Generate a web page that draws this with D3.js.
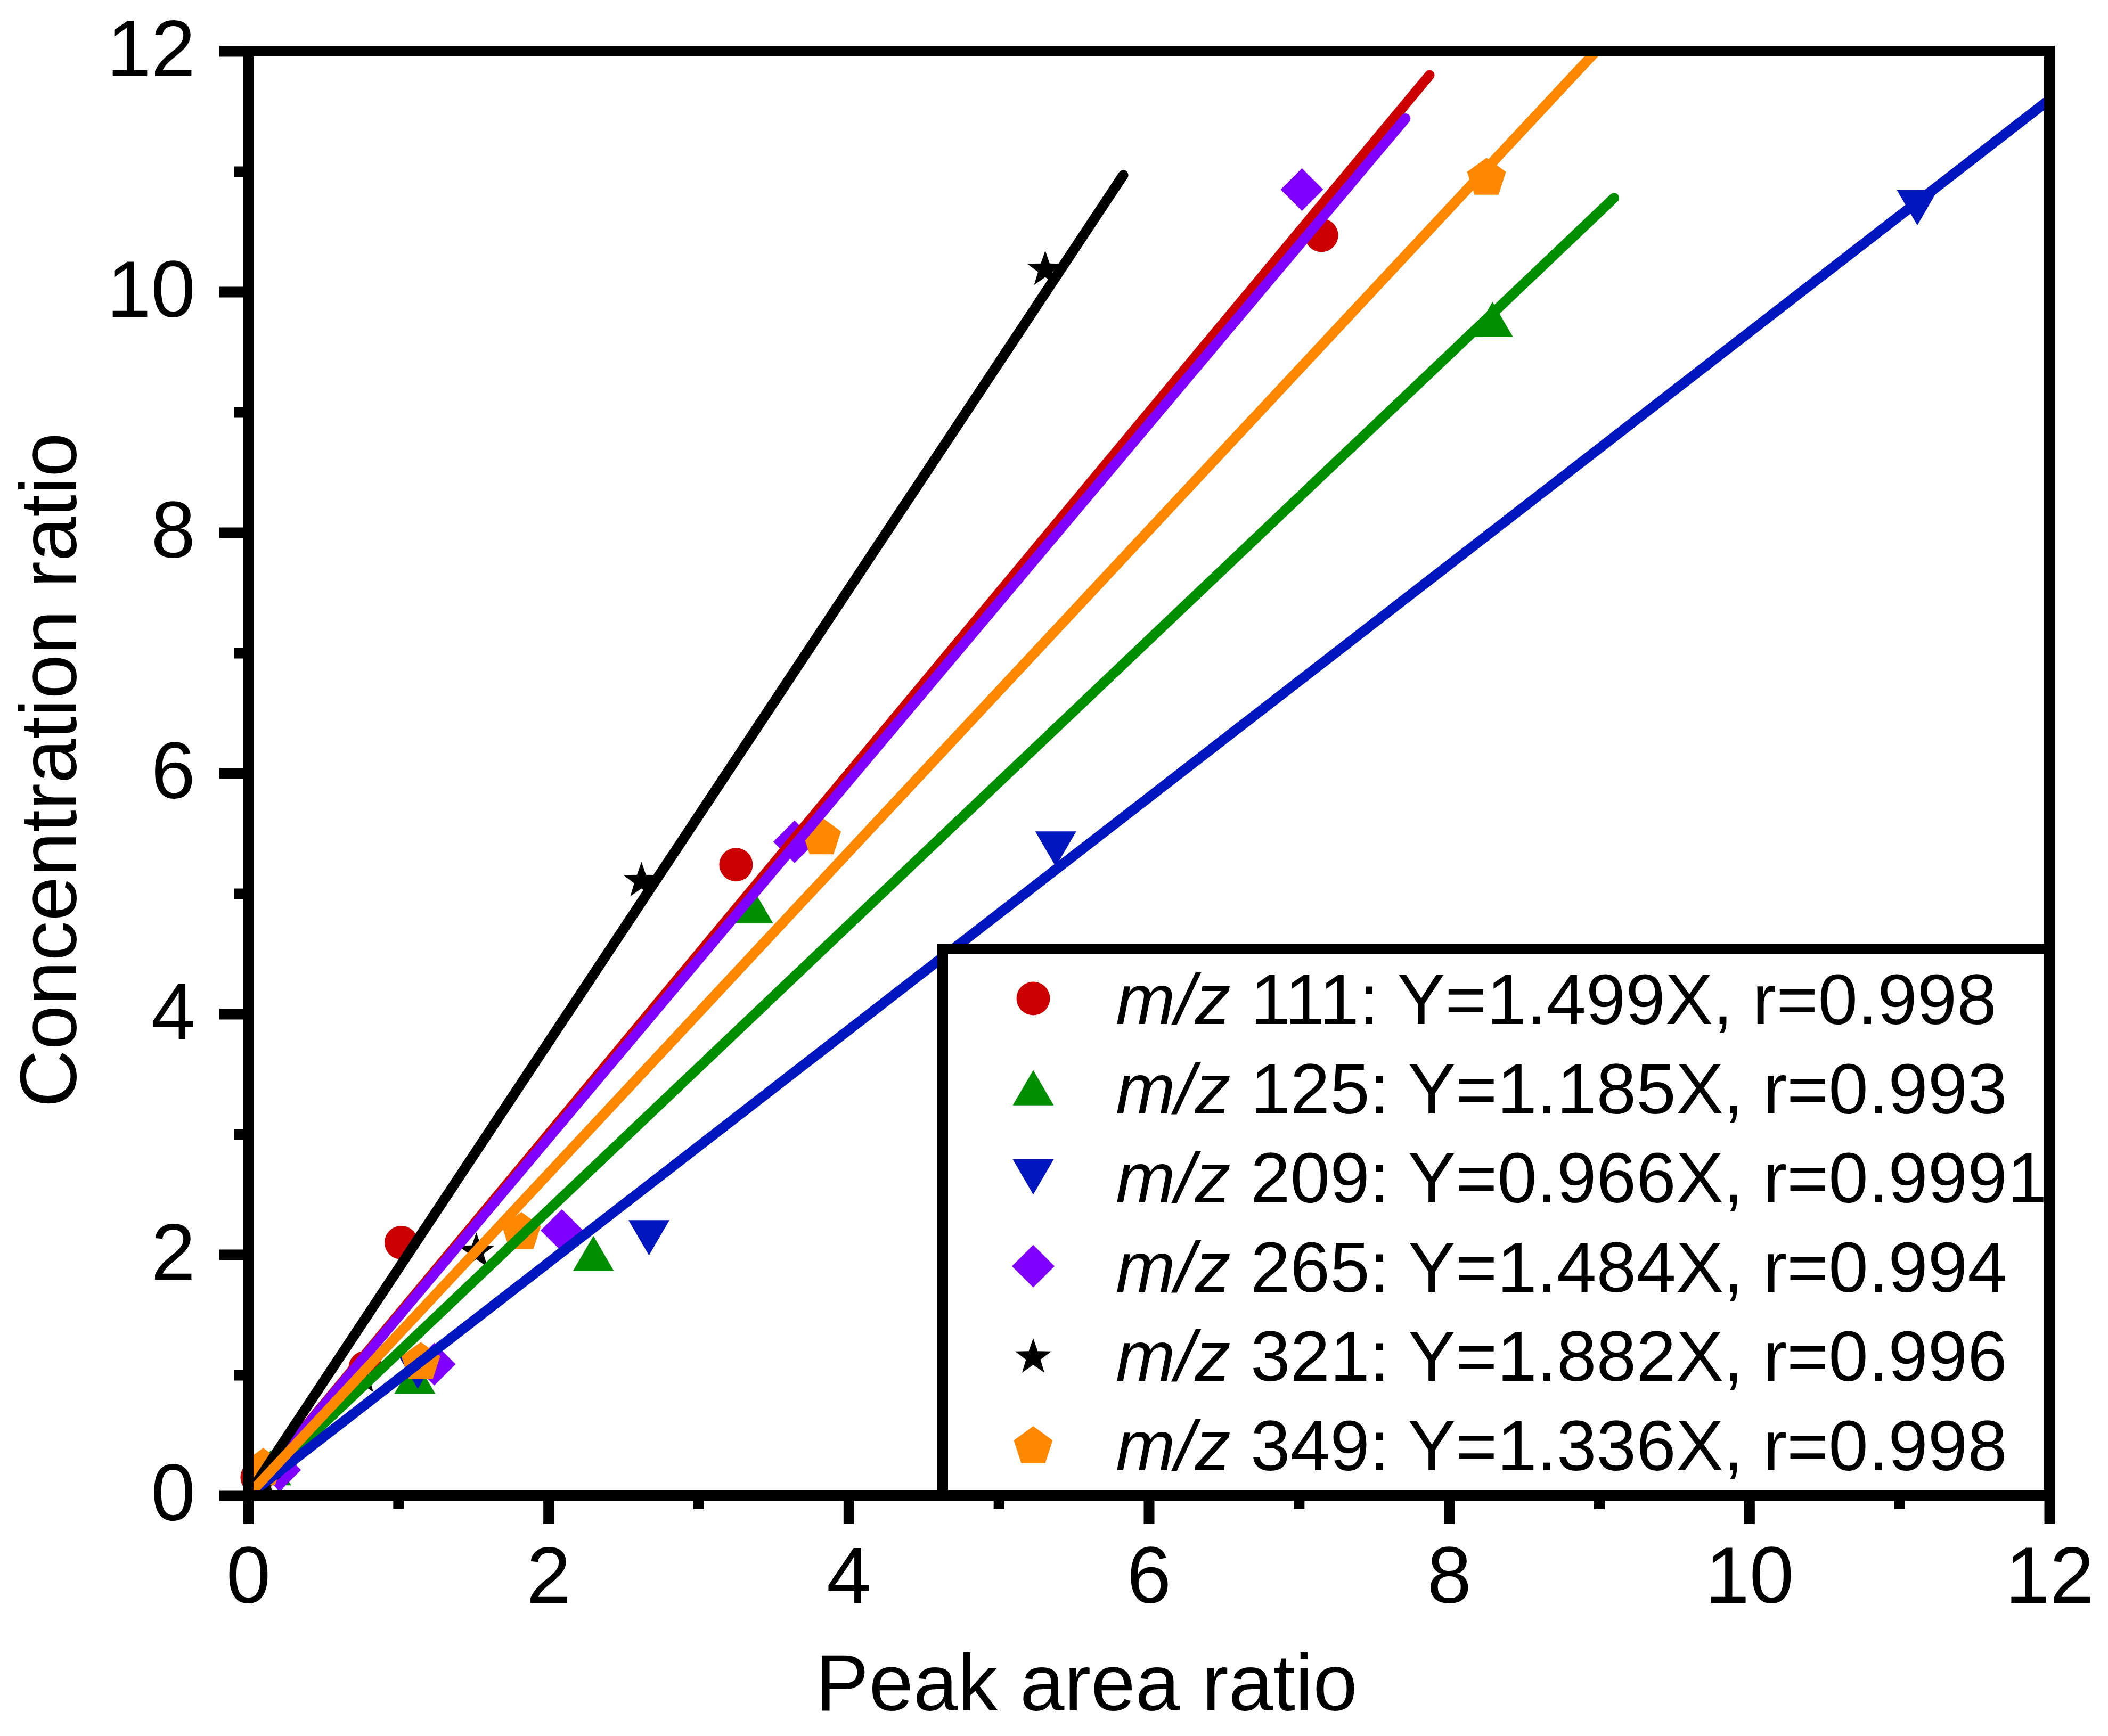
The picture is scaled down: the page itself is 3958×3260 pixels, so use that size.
<!DOCTYPE html>
<html>
<head>
<meta charset="utf-8">
<script src="https://cdn.jsdelivr.net/npm/d3@7"></script>
<style>
  body { margin: 0; background: #fff; }
</style>
</head>
<body>
<svg id="chart"></svg>
<script>
// ---- data ----
const mzLabels = ["111", "125", "209", "265", "321", "349"];
const slopes = ["1.499", "1.185", "0.966", "1.484", "1.882", "1.336"];
const rValues = ["0.998", "0.993", "0.9991", "0.994", "0.996", "0.998"];

const pts111 = [[0.06, 0.15], [0.78, 1.06], [1.02, 2.10], [3.25, 5.24], [7.15, 10.47]];
const pts125 = [[0.15, 0.23], [1.11, 0.99], [2.30, 2.01], [3.36, 4.90], [8.29, 9.77]];
const pts209 = [[0.21, 0.16], [1.13, 1.03], [2.67, 2.14], [5.38, 5.37], [11.12, 10.70]];
const pts265 = [[0.21, 0.21], [1.24, 1.09], [2.09, 2.20], [3.64, 5.43], [7.02, 10.85]];
const pts321 = [[0.10, 0.12], [0.76, 1.00], [1.52, 2.04], [2.62, 5.12], [5.31, 10.20]];
const pts349 = [[0.10, 0.24], [1.15, 1.12], [1.82, 2.20], [3.82, 5.48], [8.25, 10.96]];

// fitted lines, start and end points
const fit111 = [[0, 0], [7.87, 11.80]];
const fit125 = [[0, 0], [9.10, 10.78]];
const fit209 = [[0, 0], [12.2, 11.79]];
const fit265 = [[0, 0], [7.71, 11.44]];
const fit321 = [[0, 0], [5.83, 10.97]];
const fit349 = [[0, 0], [9.10, 12.16]];

const xMajor = [0, 2, 4, 6, 8, 10, 12];
const xMinor = [1, 3, 5, 7, 9, 11];
const yMajor = [0, 2, 4, 6, 8, 10, 12];
const yMinor = [1, 3, 5, 7, 9, 11];

// ---- style ----
const colors = ["#CC0000", "#008F00", "#0016BE", "#8000FF", "#000000", "#FF8800"];
const font = "Arial, 'Liberation Sans', Helvetica, sans-serif";

const W = 3958, H = 3260;
const svg = d3.select("#chart").attr("width", W).attr("height", H);

const x = d3.scaleLinear().domain([0, 12]).range([466, 3848]);
const y = d3.scaleLinear().domain([0, 12]).range([2808, 96]);

// custom marker shapes (size = overall width in px)
const circle = { draw(c, s) { const r = s / 2; c.moveTo(r, 0); c.arc(0, 0, r, 0, 2 * Math.PI); } };
const triUp = { draw(c, s) { const w = s / 2, h = s * 0.43; c.moveTo(0, -h); c.lineTo(w, h); c.lineTo(-w, h); c.closePath(); } };
const triDown = { draw(c, s) { const w = s / 2, h = s * 0.43; c.moveTo(0, h); c.lineTo(w, -h); c.lineTo(-w, -h); c.closePath(); } };
const diamond = { draw(c, s) { const h = s / 2; c.moveTo(0, -h); c.lineTo(h, 0); c.lineTo(0, h); c.lineTo(-h, 0); c.closePath(); } };
const star = { draw(c, s) {
  const R = s / 1.902, r = R * 0.4, off = R * 0.0955;
  for (let i = 0; i < 10; i++) {
    const a = -Math.PI / 2 + i * Math.PI / 5, rr = i % 2 ? r : R;
    const px = rr * Math.cos(a), py = rr * Math.sin(a) + off;
    i ? c.lineTo(px, py) : c.moveTo(px, py);
  }
  c.closePath();
} };
const pentagon = { draw(c, s) {
  const R = s / 1.902, off = R * 0.0955;
  for (let i = 0; i < 5; i++) {
    const a = -Math.PI / 2 + i * 2 * Math.PI / 5;
    const px = R * Math.cos(a), py = R * Math.sin(a) + off;
    i ? c.lineTo(px, py) : c.moveTo(px, py);
  }
  c.closePath();
} };
const shapes = [circle, triUp, triDown, diamond, star, pentagon];
const shapeSizes = [63, 77, 77, 80, 68, 73];

const allPts = [pts111, pts125, pts209, pts265, pts321, pts349];
const allFits = [fit111, fit125, fit209, fit265, fit321, fit349];

// ---- axes ----
function styleTicks(g) {
  g.select(".domain").remove();
  g.selectAll("line").attr("stroke", "#000").attr("stroke-width", 20);
}

svg.append("g").attr("transform", `translate(0,${y(0)})`)
  .call(d3.axisBottom(x).tickValues(xMinor).tickSize(26).tickSizeOuter(0).tickFormat(""))
  .call(styleTicks);
svg.append("g").attr("transform", `translate(0,${y(0)})`)
  .call(d3.axisBottom(x).tickValues(xMajor).tickSize(54).tickSizeOuter(0).tickFormat(d3.format("d")))
  .call(styleTicks)
  .call(g => g.selectAll("text").attr("y", 202).attr("dy", null)
    .attr("font-size", 150).attr("font-family", font).attr("fill", "#000"));

svg.append("g").attr("transform", `translate(${x(0)},0)`)
  .call(d3.axisLeft(y).tickValues(yMinor).tickSize(26).tickSizeOuter(0).tickFormat(""))
  .call(styleTicks);
svg.append("g").attr("transform", `translate(${x(0)},0)`)
  .call(d3.axisLeft(y).tickValues(yMajor).tickSize(54).tickSizeOuter(0).tickFormat(d3.format("d")))
  .call(styleTicks)
  .call(g => g.selectAll("text").attr("x", -99).attr("y", 46).attr("dy", null)
    .attr("font-size", 150).attr("font-family", font).attr("fill", "#000"));

// ---- scatter points ----
allPts.forEach((pts, i) => {
  svg.append("g").selectAll("path")
    .data(pts)
    .join("path")
    .attr("transform", d => `translate(${x(d[0])},${y(d[1])})`)
    .attr("d", d3.symbol().type(shapes[i]).size(shapeSizes[i]))
    .attr("fill", colors[i]);
});

// ---- fitted lines ----
svg.append("clipPath").attr("id", "plotClip")
  .append("rect")
  .attr("x", x(0)).attr("y", y(12))
  .attr("width", x(12) - x(0)).attr("height", y(0) - y(12));

const line = d3.line().x(d => x(d[0])).y(d => y(d[1]));
const fitG = svg.append("g").attr("clip-path", "url(#plotClip)");
allFits.forEach((f, i) => {
  fitG.append("path")
    .attr("d", line(f))
    .attr("fill", "none")
    .attr("stroke", colors[i])
    .attr("stroke-width", 19)
    .attr("stroke-linecap", "round");
});

// ---- legend ----
const legX = 1770, legY = 1782;
svg.append("rect")
  .attr("x", legX).attr("y", legY)
  .attr("width", x(12) - legX).attr("height", y(0) - legY)
  .attr("fill", "#fff").attr("stroke", "#000").attr("stroke-width", 20);

const rowH = 167.6;
mzLabels.forEach((m, i) => {
  const cy = 1875 + i * rowH;
  svg.append("path")
    .attr("transform", `translate(1940,${cy})`)
    .attr("d", d3.symbol().type(shapes[i]).size(shapeSizes[i]))
    .attr("fill", colors[i]);
  const t = svg.append("text")
    .attr("x", 2095).attr("y", cy + 48)
    .attr("font-size", 134).attr("font-family", font).attr("fill", "#000");
  t.append("tspan").attr("font-style", "italic").text("m/z");
  t.append("tspan").text(` ${m}: Y=${slopes[i]}X, r=${rValues[i]}`);
});

// ---- frame ----
svg.append("rect")
  .attr("x", x(0)).attr("y", y(12))
  .attr("width", x(12) - x(0)).attr("height", y(0) - y(12))
  .attr("fill", "none").attr("stroke", "#000").attr("stroke-width", 20);

// ---- axis titles ----
svg.append("text")
  .attr("x", 2040).attr("y", 3212)
  .attr("text-anchor", "middle")
  .attr("font-size", 150).attr("font-family", font)
  .text("Peak area ratio");

svg.append("text")
  .attr("transform", "translate(143,1446) rotate(-90)")
  .attr("text-anchor", "middle")
  .attr("font-size", 150).attr("font-family", font)
  .text("Concentration ratio");
</script>
</body>
</html>
